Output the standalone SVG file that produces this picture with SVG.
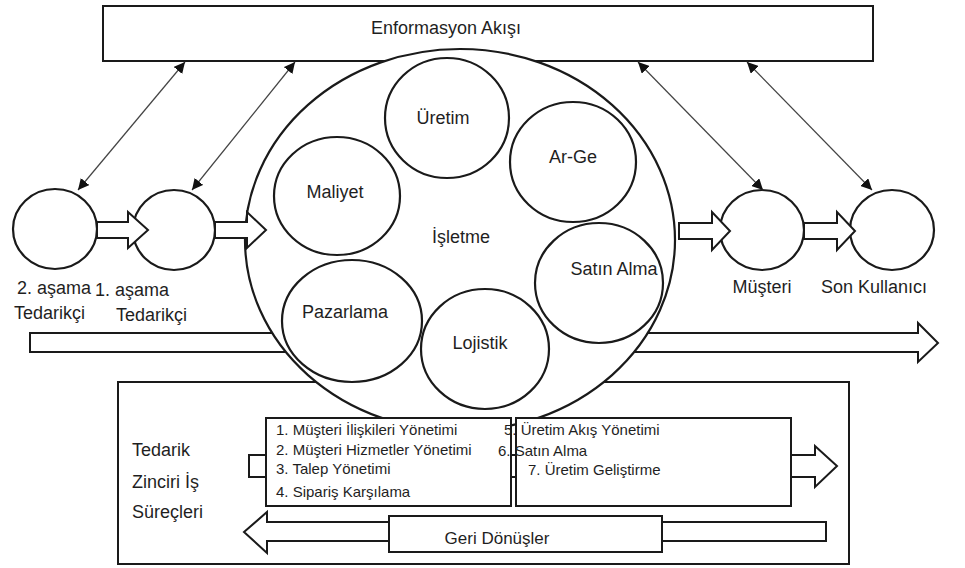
<svg xmlns="http://www.w3.org/2000/svg" width="965" height="568" viewBox="0 0 965 568">
<defs>
<marker id="ah" viewBox="0 0 10 10" refX="10" refY="5" markerWidth="11" markerHeight="11" markerUnits="userSpaceOnUse" orient="auto-start-reverse">
<path d="M0,0 L10,5 L0,10 Z" fill="#111"/>
</marker>
<style>
.s{fill:#fff;stroke:#1a1a1a;stroke-width:2}
.c{fill:#fff;stroke:#1a1a1a;stroke-width:2.2}
.t{font-family:"Liberation Sans",Arial,sans-serif;fill:#1f1f1f}
.l18{font-size:18px}
.l17{font-size:17px}
.l15{font-size:15px}
.m{text-anchor:middle}
.con{stroke:#444;stroke-width:1.2;fill:none;marker-start:url(#ah);marker-end:url(#ah)}
</style>
</defs>
<rect width="965" height="568" fill="#fff"/>

<g id="info-flow">
<rect class="s" x="103" y="6" width="770" height="55"/>
<text class="t l18 m" x="446" y="34">Enformasyon Akışı</text>
</g>

<g id="processes-box">
<rect class="s" x="118" y="382" width="731" height="182"/>
<text class="t l18" x="132" y="456">Tedarik</text>
<text class="t l18" x="132" y="488">Zinciri İş</text>
<text class="t l18" x="132" y="518">Süreçleri</text>
</g>

<g id="flow-arrow">
<polygon class="s" points="30,333 918,333 918,323 938,343 918,362 918,352 30,352"/>
</g>

<g id="isletme">
<ellipse class="c" cx="460" cy="240" rx="215" ry="191"/>
<text class="t l18 m" x="461" y="243">İşletme</text>
</g>

<g id="uretim">
<ellipse class="c" cx="447" cy="118" rx="62" ry="60"/>
<text class="t l18 m" x="443" y="124">Üretim</text>
</g>
<g id="arge">
<ellipse class="c" cx="573" cy="162" rx="63" ry="60"/>
<text class="t l18 m" x="573" y="163">Ar-Ge</text>
</g>
<g id="maliyet">
<ellipse class="c" cx="337" cy="196" rx="63" ry="59"/>
<text class="t l18 m" x="335" y="198">Maliyet</text>
</g>
<g id="satinalma">
<ellipse class="c" cx="599" cy="283" rx="64" ry="60"/>
<text class="t l18 m" x="614" y="275">Satın Alma</text>
</g>
<g id="pazarlama">
<ellipse class="c" cx="352" cy="321" rx="70" ry="61"/>
<text class="t l18 m" x="345" y="318">Pazarlama</text>
</g>
<g id="lojistik">
<ellipse class="c" cx="485" cy="349" rx="64" ry="60"/>
<text class="t l18 m" x="480" y="349">Lojistik</text>
</g>

<g id="tedarikci2">
<ellipse class="c" cx="55" cy="229" rx="42" ry="40"/>
<text class="t l18" x="17" y="294">2. aşama</text>
<text class="t l18" x="14" y="319">Tedarikçi</text>
</g>
<g id="tedarikci1">
<ellipse class="c" cx="174" cy="230" rx="41" ry="40"/>
<text class="t l18" x="95" y="296">1. aşama</text>
<text class="t l18" x="116" y="321">Tedarikçi</text>
</g>
<g id="musteri">
<ellipse class="c" cx="762" cy="230" rx="42" ry="40"/>
<text class="t l18 m" x="762" y="293">Müşteri</text>
</g>
<g id="sonkullanici">
<ellipse class="c" cx="892" cy="230" rx="42" ry="40"/>
<text class="t l18 m" x="874" y="293">Son Kullanıcı</text>
</g>

<g id="process-arrow">
<rect class="s" x="249" y="455" width="17" height="22"/>
<rect class="s" x="511" y="455" width="5" height="22"/>
<polygon class="s" points="791,455 815,455 815,446 837,466 815,487 815,477 791,477"/>
<rect class="s" x="266" y="418" width="245" height="88"/>
<rect class="s" x="516" y="418" width="275" height="88"/>
<text class="t l15" x="276" y="435">1. Müşteri İlişkileri Yönetimi</text>
<text class="t l15" x="276" y="455">2. Müşteri Hizmetler Yönetimi</text>
<text class="t l15" x="276" y="474">3. Talep Yönetimi</text>
<text class="t l15" x="276" y="497">4. Sipariş Karşılama</text>
<text class="t l15" x="504" y="435">5. Üretim Akış Yönetimi</text>
<text class="t l15" x="498" y="456">6. Satın Alma</text>
<text class="t l15" x="528" y="475">7. Üretim Geliştirme</text>
</g>

<g id="geri-donusler">
<polygon class="s" points="826,522 826,541 267,541 267,553 244,532 267,512 267,522"/>
<rect class="s" x="389" y="516" width="273" height="36"/>
<text class="t l17 m" x="497" y="544">Geri Dönüşler</text>
</g>

<g id="connectors">
<polygon class="s" points="97,222 128,222 128,212 148,230 128,248 128,238 97,238"/>
<polygon class="s" points="215,222 247,222 247,212 266,230 247,248 247,238 215,238"/>
<polygon class="s" points="679,223 712,223 712,212 730,231 712,250 712,239 679,239"/>
<polygon class="s" points="804,223 837,223 837,212 855,231 837,250 837,239 804,239"/>
<line class="con" x1="185" y1="62" x2="78" y2="190"/>
<line class="con" x1="295" y1="62" x2="192" y2="190"/>
<line class="con" x1="638" y1="62" x2="763" y2="190"/>
<line class="con" x1="747" y1="62" x2="872" y2="190"/>
</g>
</svg>
